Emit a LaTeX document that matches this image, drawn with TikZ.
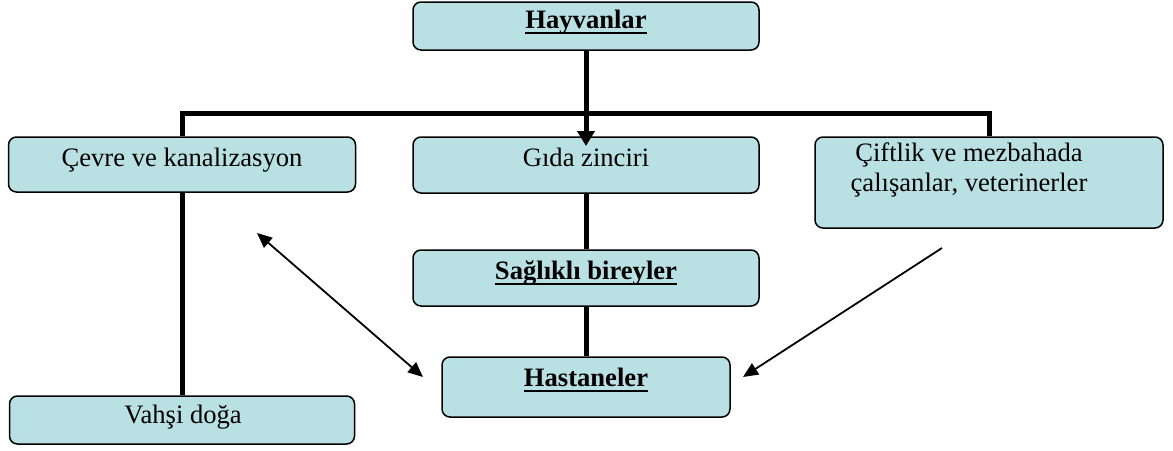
\documentclass[tikz,border=0pt]{standalone}
\usepackage{fontspec}
\setmainfont{Liberation Serif}
\usetikzlibrary{arrows.meta}
\definecolor{boxfill}{RGB}{185,224,227}
\newcommand\myul[1]{\setbox0\hbox{#1}\rlap{\rule[-5.5pt]{\wd0}{2pt}}\box0}
\tikzset{
  box/.style={draw=black, line width=1.5pt, rounded corners=8pt, fill=boxfill, inner sep=0pt},
  txt/.style={anchor=base, inner sep=0pt, font=\fontsize{26.6pt}{30pt}\selectfont, align=center},
  thick line/.style={line width=5pt, line cap=butt},
  thin arrow/.style={line width=1.8pt, {Triangle[length=15pt,width=13pt]}-{Triangle[length=15pt,width=13pt]}},
  one arrow/.style={line width=1.8pt, -{Triangle[length=15pt,width=13pt]}}
}
\begin{document}
\begin{tikzpicture}[x=1pt,y=-1pt]
\useasboundingbox (0,0) rectangle (1173,450);
% boxes
\node[box, minimum width=346pt, minimum height=48pt] (h) at (586,26) {};
\node[box, minimum width=346pt, minimum height=56pt] (g) at (586,165) {};
\node[box, minimum width=347pt, minimum height=55pt] (c) at (182,164.5) {};
\node[box, minimum width=348pt, minimum height=91pt] (f) at (989,182.5) {};
\node[box, minimum width=346pt, minimum height=56pt] (s) at (586,278) {};
\node[box, minimum width=288pt, minimum height=60pt] (k) at (586,387) {};
\node[box, minimum width=345pt, minimum height=48pt] (v) at (182,420) {};
% texts
\node[txt] (ht) at (586,28) {\textbf{\myul{Hayvanlar}}};
\node[txt] (gt) at (586,166) {Gıda zinciri};
\node[txt] (ct) at (182,166) {Çevre ve kanalizasyon};
\node[txt, anchor=north] (ft) at (969,143) {Çiftlik ve mezbahada\\çalışanlar, veterinerler};
\node[txt] (st) at (586,279) {\textbf{\myul{Sağlıklı bireyler}}};
\node[txt] (kt) at (586,386) {\textbf{\myul{Hastaneler}}};
\node[txt] (vt) at (183,423) {Vahşi doğa};
% connectors
\coordinate (bus) at (586,113);
\coordinate (gtip) at (586,146);
\draw[thick line] (c.north) |- (bus) -| (f.north);
\draw[thick line, -{Triangle[length=15pt,width=17pt]}] (h.south) -- (gtip);
\draw[thick line] (c.south) -- (v.north);
\draw[thick line] (g.south) -- (s.north);
\draw[thick line] (s.south) -- (k.north);
\coordinate (a1) at (257,233);
\coordinate (a2) at (423,377);
\draw[thin arrow] (a1) -- (a2);
\coordinate (b1) at (942,248);
\coordinate (b2) at (743,377);
\draw[one arrow] (b1) -- (b2);
\end{tikzpicture}
\end{document}
